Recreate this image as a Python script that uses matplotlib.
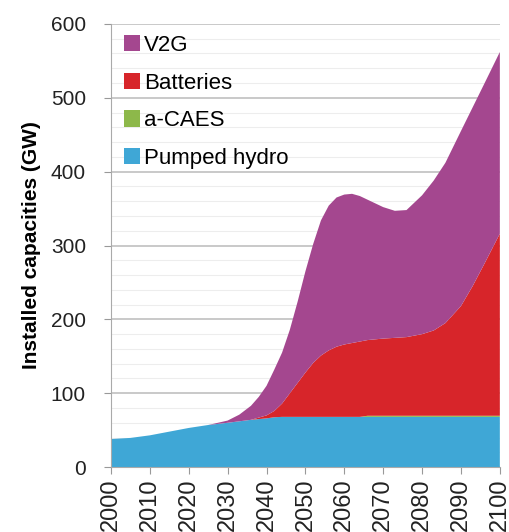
import numpy as np
import matplotlib.pyplot as plt

plt.rcParams['font.family'] = ['Liberation Sans', 'DejaVu Sans']

years = [2000, 2005, 2010, 2015, 2020, 2025, 2030, 2033, 2036, 2038, 2040, 2042,
         2044, 2046, 2048, 2050, 2052, 2054, 2056, 2058, 2060, 2062, 2064,
         2066, 2068, 2070, 2073, 2076, 2080, 2083, 2086, 2090, 2093, 2096, 2100]
pumped_hydro = [38, 39.5, 43, 48, 53, 57, 60, 62, 64, 65, 66, 67.5,
                68, 68, 68, 68, 68, 68, 68, 68, 68, 68, 68,
                68, 68, 68, 68, 68, 68, 68, 68, 68, 68, 68, 68]
a_caes = [0, 0, 0, 0, 0, 0, 0, 0, 0, 0, 0, 0,
          0, 0, 0, 0, 0, 0, 0, 0, 0, 0, 0,
          1.5, 1.5, 1.5, 1.5, 1.5, 1.5, 1.5, 1.5, 1.5, 1.5, 1.5, 1.5]
batteries = [0, 0, 0, 0, 0, 0, 0, 0, 0, 2, 4, 8.5,
             18, 32, 46, 60, 73, 83, 90, 95, 98, 100, 102,
             102.5, 103.5, 104.5, 105.5, 106.5, 110.5, 115.5, 125.5, 148.5, 175.5, 205.5, 246.5]
v2g = [0, 0, 0, 0, 0, 0, 3, 9, 19, 28, 40, 56,
       69, 86, 110, 137, 161, 183, 196, 202, 203, 202, 197,
       190, 184, 178, 172, 172, 188, 203, 217, 237, 242, 244, 246]

labels = ['Pumped hydro', 'a-CAES', 'Batteries', 'V2G']
colors = ['#3FA7D6', '#8DB84A', '#D7252A', '#A4478F']

fig = plt.figure(figsize=(5.09, 5.32), dpi=100)
ax = fig.add_axes([0.218, 0.122, 0.764, 0.833])

ax.stackplot(years, pumped_hydro, a_caes, batteries, v2g,
             labels=labels, colors=colors, zorder=2)

ax.set_xlim(2000, 2100)
ax.set_ylim(0, 600)
ax.set_yticks(np.arange(0, 601, 100))
ax.set_yticks(np.arange(0, 601, 20), minor=True)
ax.set_xticks(np.arange(2000, 2101, 10))
ax.grid(axis='y', which='major', color='#c0c0c0', lw=1.2, zorder=0)
ax.grid(axis='y', which='minor', color='#ededed', lw=0.8, zorder=0)
ax.tick_params(axis='y', which='minor', length=0)
ax.tick_params(axis='both', which='major', colors='#999999', labelcolor='#222222',
               length=5, labelsize=15)
ax.tick_params(axis='y', pad=13)
ax.tick_params(axis='x', rotation=90, labelsize=17, pad=3)
for s in ['top', 'right']:
    ax.spines[s].set_visible(False)
for s in ['left', 'bottom']:
    ax.spines[s].set_color('#aaaaaa')

ax.set_ylabel('Installed capacities (GW)', fontsize=15, fontweight='bold', labelpad=7)

h, l = ax.get_legend_handles_labels()
ax.legend(h[::-1], l[::-1], loc='upper left', frameon=False, fontsize=16,
          handlelength=0.75, handleheight=0.75, handletextpad=0.15,
          labelspacing=0.75, borderaxespad=0.0, bbox_to_anchor=(0.01, 0.995))

fig.savefig('out.png', dpi=100)
